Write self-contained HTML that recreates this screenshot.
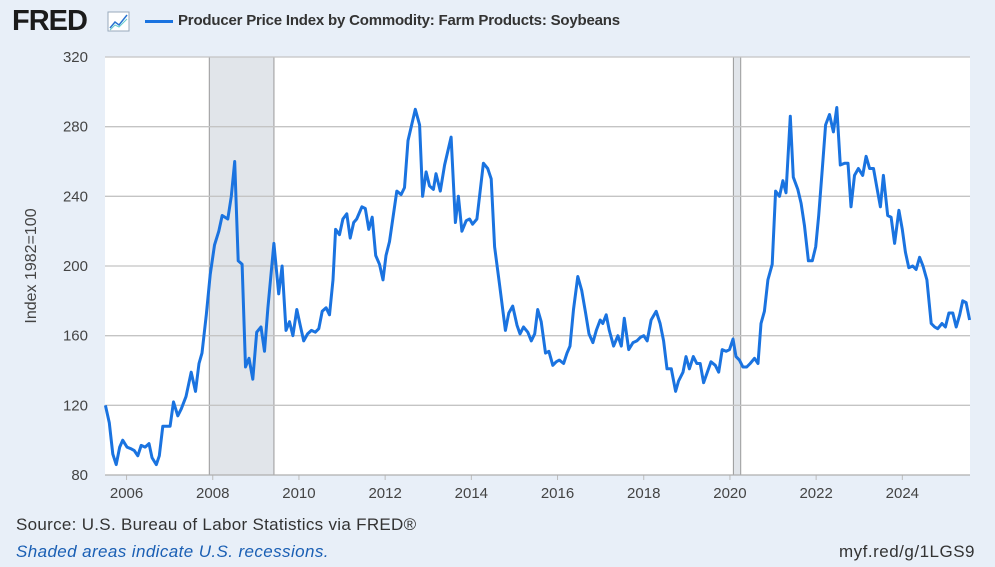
<!DOCTYPE html>
<html><head><meta charset="utf-8"><style>
body{margin:0;width:995px;height:567px;background:#e8eff8;font-family:"Liberation Sans",sans-serif;overflow:hidden;position:relative}
.t{position:absolute;white-space:nowrap}
</style></head><body>
<div class="t" style="left:12px;top:5px;font-size:29px;font-weight:bold;color:#1b1b1b;letter-spacing:-1px">FRED</div>
<svg style="position:absolute;left:107px;top:11px" width="24" height="22"><rect x="1" y="1" width="21" height="19" fill="#fff" stroke="#9ab"/><polyline points="3,17 8,11 12,14 20,4" fill="none" stroke="#2a74d2" stroke-width="1.5"/><polyline points="3,19 8,14 12,16 20,8" fill="none" stroke="#6cc" stroke-width="1"/></svg>
<div style="position:absolute;left:145px;top:20px;width:28px;height:3px;background:#1a73e0"></div>
<div class="t" style="left:178px;top:12px;font-size:15px;color:#333;font-weight:bold;letter-spacing:-0.2px">Producer Price Index by Commodity: Farm Products: Soybeans</div>
<svg id="chart" width="995" height="567" style="position:absolute;left:0;top:0"></svg>
<div class="t" style="left:16px;top:515px;font-size:17px;letter-spacing:0.3px;color:#333">Source: U.S. Bureau of Labor Statistics via FRED®</div>
<div class="t" style="left:16px;top:542px;font-size:17px;letter-spacing:0.4px;color:#1a5fb4;font-style:italic">Shaded areas indicate U.S. recessions.</div>
<div class="t" style="right:20px;top:542px;font-size:17px;letter-spacing:0.5px;color:#333">myf.red/g/1LGS9</div>
<script>
const dates=[2005.51,2005.60,2005.68,2005.76,2005.84,2005.91,2006.01,2006.11,2006.18,2006.26,2006.34,2006.43,2006.52,2006.59,2006.69,2006.76,2006.84,2007.01,2007.09,2007.19,2007.27,2007.38,2007.50,2007.60,2007.68,2007.75,2007.85,2007.94,2008.04,2008.14,2008.22,2008.35,2008.43,2008.51,2008.59,2008.68,2008.76,2008.84,2008.93,2009.02,2009.12,2009.20,2009.28,2009.42,2009.53,2009.61,2009.70,2009.78,2009.86,2009.95,2010.03,2010.11,2010.20,2010.29,2010.38,2010.46,2010.54,2010.63,2010.71,2010.79,2010.85,2010.94,2011.02,2011.11,2011.19,2011.27,2011.34,2011.46,2011.54,2011.62,2011.70,2011.78,2011.87,2011.95,2012.02,2012.10,2012.27,2012.37,2012.45,2012.53,2012.70,
2012.80,2012.87,2012.95,2013.03,2013.12,2013.18,2013.28,2013.38,2013.53,2013.63,2013.70,2013.78,2013.88,2013.96,2014.03,2014.13,2014.28,2014.38,2014.46,2014.54,2014.65,2014.79,2014.87,2014.96,2015.06,2015.13,2015.21,2015.31,2015.39,2015.47,2015.54,2015.62,2015.72,2015.80,2015.89,2015.97,2016.04,2016.14,2016.22,2016.29,2016.37,2016.47,2016.56,2016.65,2016.73,2016.82,2016.90,2016.99,2017.05,2017.13,2017.20,2017.30,2017.40,2017.48,2017.55,2017.65,2017.75,2017.84,2017.92,2018.00,2018.08,2018.17,2018.29,2018.38,2018.46,2018.54,2018.64,2018.74,2018.81,2018.91,2018.98,2019.06,2019.15,2019.23,2019.31,2019.39,2019.46,2019.56,2019.66,2019.74,2019.82,2019.91,
2019.99,2020.07,2020.14,2020.22,2020.30,2020.39,2020.47,2020.57,2020.65,2020.72,2020.80,2020.88,2020.98,2021.06,2021.15,2021.23,2021.30,2021.40,2021.47,2021.575,2021.65,2021.73,2021.82,2021.91,2021.99,2022.06,2022.14,2022.22,2022.31,2022.40,2022.48,2022.56,2022.66,2022.74,2022.81,2022.89,2022.98,2023.08,2023.16,2023.24,2023.33,2023.41,2023.49,2023.56,2023.66,2023.74,2023.82,2023.92,2024.00,2024.07,2024.15,2024.24,2024.32,2024.40,2024.48,2024.57,2024.67,2024.75,2024.82,2024.92,2025.00,2025.08,2025.17,2025.25,2025.33,2025.40,2025.48,2025.56];
const values=[120,110,92,86,96,100,96,95,94,91,97,96,98,90,86,91,108,108,122,114,118,125,139,128,144,150,172,195,212,220,229,227,240,260,203,201,142,147,135,162,165,151,176,213,184,200,163,168,160,175,166,157,161,163,162,164,174,176,172,192,221,218,227,230,216,225,227,234,233,221,228,206,201,192,206,214,243,241,245,272,290,
281,240,254,246,244,253,243,258,274,225,240,220,226,227,224,227,259,256,250,211,190,163,173,177,166,161,165,162,157,161,175,168,150,151,143,145,146,144,150,154,175,194,186,173,161,156,163,169,167,172,163,154,160,154,170,152,156,157,159,160,157,169,174,167,157,141,141,128,134,139,148,141,148,144,144,133,138,145,143,139,152,151,
152,158,148,146,142,142,144,147,144,167,174,192,201,243,240,249,242,286,251,244,236,223,203,203,211,229,255,281,287,277,291,258,259,259,234,252,256,252,263,256,256,245,234,252,229,228,213,232,221,208,199,200,198,205,200,192,167,165,164,167,165,173,173,165,172,180,179,169];
const yTicks=[80,120,160,200,240,280,320];
const xTicks=[2006,2008,2010,2012,2014,2016,2018,2020,2022,2024];
const recessions=[[2007.92,2009.42],[2020.08,2020.25]];
const X0=105,X1=970,Y0=475,Y1=57,xmin=2005.5,xmax=2025.57,ymin=80,ymax=320;
const sx=v=>X0+(v-xmin)/(xmax-xmin)*(X1-X0);
const sy=v=>Y0-(v-ymin)/(ymax-ymin)*(Y0-Y1);
const svg=document.getElementById('chart');const NS='http://www.w3.org/2000/svg';
function mk(tag,a){const e=document.createElementNS(NS,tag);for(const k in a)e.setAttribute(k,a[k]);svg.appendChild(e);return e;}
const bg=mk('rect',{x:X0,y:Y1,width:X1-X0,height:Y0-Y1,fill:'#fff'});


recessions.forEach(r=>{
 const e=mk('rect',{x:sx(r[0]),y:Y1,width:sx(r[1])-sx(r[0]),height:Y0-Y1,fill:'#e1e5ea',stroke:'#999','stroke-width':1});
 
 
});
yTicks.forEach(v=>{
 const g=mk('line',{x1:X0,x2:X1,y1:sy(v),y2:sy(v),stroke:'#c4c4c4','stroke-width':1.3});
 
 
 const t=mk('text',{x:88,y:sy(v)+5,'text-anchor':'end','font-size':15,fill:'#444','font-family':'Liberation Sans'});
 t.textContent=v;
 
 
});
xTicks.forEach(v=>{
 const g=mk('line',{x1:sx(v),x2:sx(v),y1:Y0,y2:Y0+5,stroke:'#bbb'});
 
 
 const t=mk('text',{x:sx(v),y:498,'text-anchor':'middle','font-size':15,fill:'#444','font-family':'Liberation Sans'});
 t.textContent=v;
 
 
});
const ax=mk('line',{x1:X0,x2:X1,y1:Y0,y2:Y0,stroke:'#aaa'});


const yt=mk('text',{x:0,y:0,transform:'translate(36,266) rotate(-90)','text-anchor':'middle','font-size':16,fill:'#444','font-family':'Liberation Sans'});
yt.textContent='Index 1982=100';


const pts=dates.map((d,i)=>sx(d).toFixed(1)+','+sy(values[i]).toFixed(1)).join(' ');
const ln=mk('polyline',{points:pts,fill:'none',stroke:'#1a73e0','stroke-width':3,'stroke-linejoin':'round'});


</script>
</body></html>
